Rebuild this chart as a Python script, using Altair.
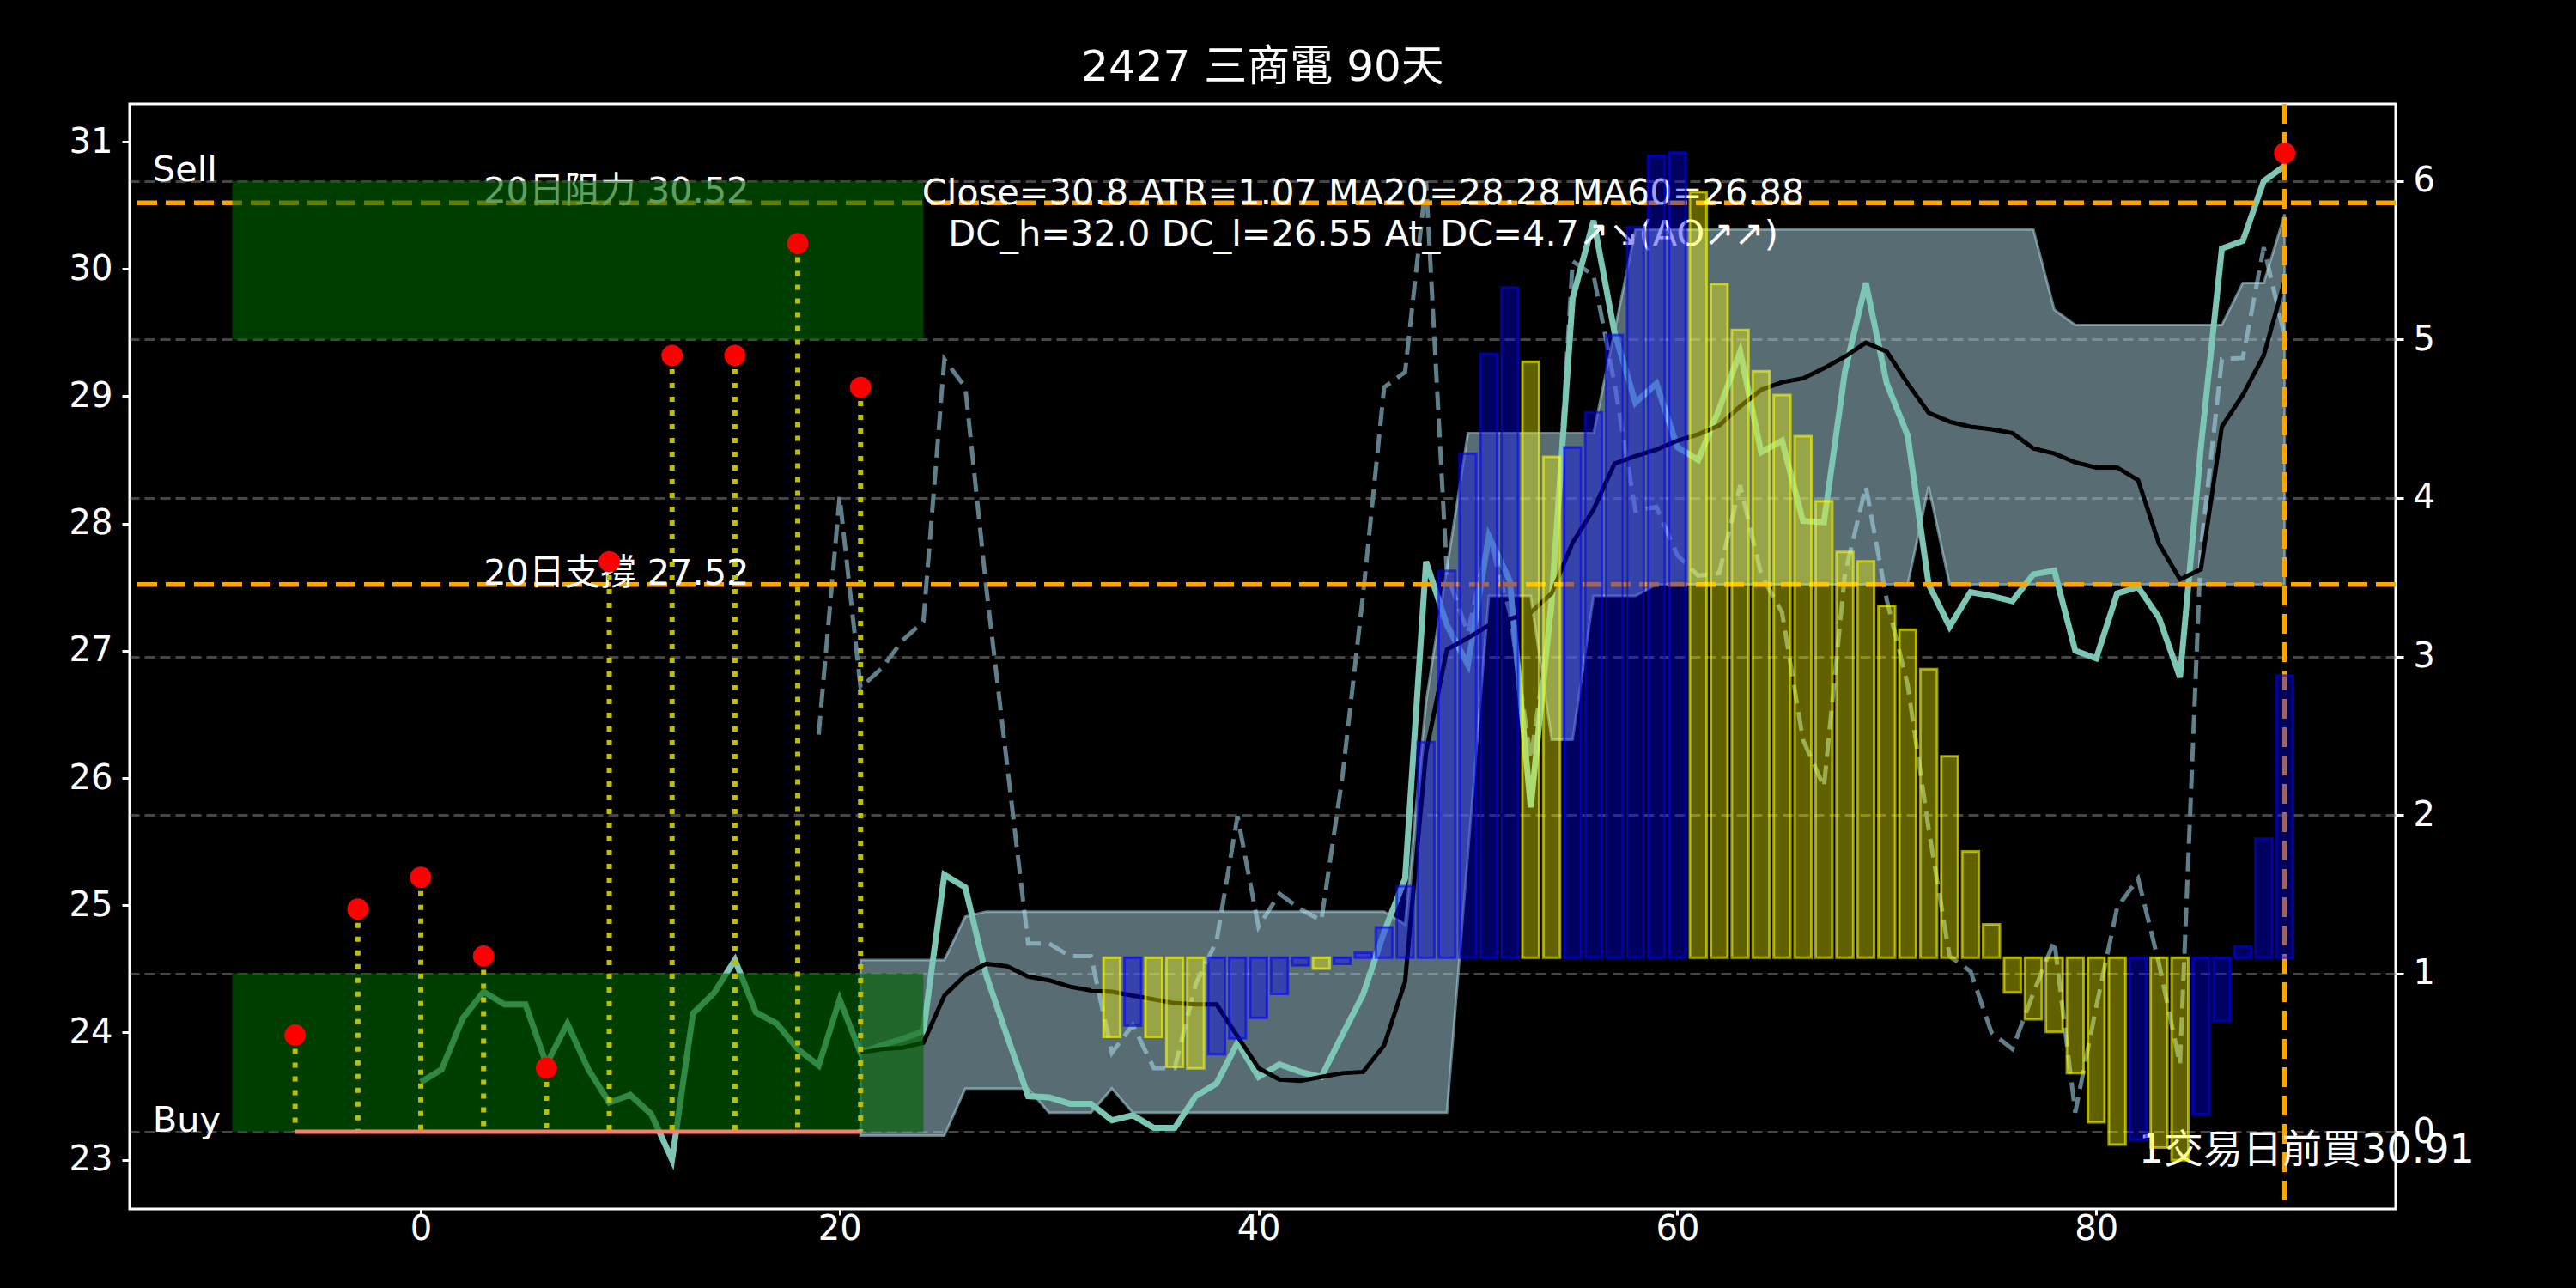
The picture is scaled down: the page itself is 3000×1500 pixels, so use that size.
import altair as alt
import pandas as pd

# ---------------- data ----------------
close_x = list(range(0, 90))
close_y = [23.61, 23.71, 24.11, 24.32, 24.22, 24.22, 23.75, 24.07, 23.71, 23.45,
           23.51, 23.36, 23.00, 24.15, 24.31, 24.57, 24.16, 24.07, 23.87, 23.74,
           24.26, 23.84, 23.90, 23.95, 24.01, 25.24, 25.14, 24.45, 23.97, 23.50,
           23.49, 23.44, 23.44, 23.31, 23.35, 23.25, 23.25, 23.50, 23.60, 23.92,
           23.65, 23.75, 23.69, 23.65, 23.98, 24.30, 24.79, 25.21, 27.70, 27.20,
           26.89, 27.90, 27.55, 25.77, 27.40, 29.77, 30.38, 29.50, 28.95, 29.10,
           28.60, 28.50, 28.90, 29.35, 28.56, 28.65, 28.02, 28.01, 29.19, 29.89,
           29.10, 28.69, 27.52, 27.19, 27.46, 27.43, 27.39, 27.60, 27.63, 27.00,
           26.94, 27.45, 27.50, 27.26, 26.79, 28.60, 30.16, 30.22, 30.69, 30.81]

ma_x = list(range(21, 90))
ma_y = [23.84, 23.87, 23.88, 23.92, 24.29, 24.45, 24.54, 24.52, 24.44, 24.41,
        24.36, 24.33, 24.32, 24.29, 24.26, 24.23, 24.22, 24.22, 23.97, 23.72,
        23.63, 23.62, 23.65, 23.68, 23.69, 23.90, 24.40, 26.20, 27.01, 27.10,
        27.20, 27.25, 27.30, 27.45, 27.85, 28.11, 28.47, 28.53, 28.58, 28.65,
        28.70, 28.77, 28.92, 29.05, 29.11, 29.14, 29.22, 29.31, 29.42, 29.35,
        29.10, 28.87, 28.80, 28.76, 28.74, 28.71, 28.59, 28.55, 28.48, 28.44,
        28.44, 28.34, 27.84, 27.56, 27.64, 28.76, 29.01, 29.32, 29.91]

atr_x = list(range(19, 90))
atr_y = [26.34, 28.21, 26.71, 26.86, 27.08, 27.23, 29.29, 29.07, 27.50, 26.10,
         24.70, 24.70, 24.60, 24.60, 23.84, 24.06, 23.72, 23.72, 24.38, 24.72,
         25.70, 24.83, 25.09, 24.97, 24.88, 26.00, 27.45, 29.07, 29.19, 30.69,
         27.60, 27.14, 27.90, 27.30, 26.15, 27.30, 30.06, 29.95, 29.10, 28.10,
         28.13, 27.75, 27.59, 27.61, 28.30, 27.60, 27.30, 26.30, 25.93, 27.60,
         28.29, 27.40, 26.73, 25.60, 24.60, 24.48, 24.00, 23.87, 24.31, 24.72,
         23.37, 24.20, 24.98, 25.21, 24.54, 23.75, 27.80, 29.29, 29.30, 30.17,
         29.47]

band_x = list(range(21, 90))
band_hi = ([24.57] * 5 + [24.91] + [24.95] * 20 + [24.85, 26.60, 27.65]
           + [28.71] * 7 + [29.51] + [30.31] * 20 + [29.68] + [29.56] * 8
           + [29.89, 29.89, 30.43])
band_lo = ([23.19] * 5 + [23.56] * 4 + [23.37] * 3 + [23.56] + [23.37] * 16
           + [25.40] + [27.43] * 3 + [26.30] * 2 + [27.43] * 3 + [27.52] * 13
           + [28.29] + [27.52] * 17)

ao_x = list(range(33, 90))
ao_val = [0.60, 0.67, 0.60, 0.41, 0.40, 0.49, 0.59, 0.72, 0.87, 1.05,
          1.03, 1.06, 1.13, 1.29, 1.55, 2.46, 3.54, 4.28, 4.91, 5.33,
          4.86, 4.26, 4.32, 4.54, 5.03, 5.71, 6.16, 6.18, 5.93, 5.35,
          5.06, 4.80, 4.65, 4.39, 3.98, 3.66, 3.60, 3.32, 3.17, 2.92,
          2.37, 1.77, 1.31, 0.88, 0.71, 0.63, 0.37, 0.06, -0.08, -0.05,
          -0.10, -0.18, 0.11, 0.70, 1.17, 1.85, 2.88]
ao_dir = (["down", "up", "down", "down", "down", "up", "up", "up", "up", "up",
           "down", "up", "up", "up", "up", "up", "up", "up", "up", "up",
           "down", "down", "up", "up", "up", "up", "up", "up"]
          + ["down"] * 21 + ["up", "down", "down", "up", "up", "up", "up", "up"])
ao_base = 1.10

sig_x = [-6, -3, 0, 3, 6, 9, 12, 15, 18, 21]
sig_y = [23.98, 24.97, 25.22, 24.60, 23.72, 27.70, 29.32, 29.32, 30.20, 29.07]
stop_level = 23.22
buy_x = [89]
buy_y = [30.91]
res_level = 30.52
sup_level = 27.52
zone_x0, zone_x1 = -9, 24
zone_lo = [0, 5]
zone_hi = [1, 6]

title_text = "2427 三商電 90天"
info_text = ("Close=30.8 ATR=1.07 MA20=28.28 MA60=26.88\n"
             "DC_h=32.0 DC_l=26.55 At_DC=4.7↗↘(AO↗↗)")

# ---------------- scales / axes ----------------
FONT = "DejaVu Sans, Noto Sans CJK TC"
XS = alt.Scale(domain=[-13.9, 94.3], nice=False, zero=False)
YL = alt.Scale(domain=[22.613, 31.297], nice=False, zero=False)
YR = alt.Scale(domain=[-0.487, 6.487], nice=False, zero=False)

axis_style = dict(labelColor="white", tickColor="white", tickWidth=3,
                  labelFontSize=40, labelFont=FONT, domain=False, format="d")
XAX = alt.Axis(values=[0, 20, 40, 60, 80], grid=False, tickSize=7,
               labelPadding=-4, **axis_style)
LAX = alt.Axis(values=list(range(23, 32)), orient="left", grid=False,
               tickSize=9, labelPadding=11, **axis_style)
RAX = alt.Axis(values=list(range(0, 7)), orient="right", grid=True,
               gridColor="gray", gridOpacity=0.55, gridWidth=3,
               gridDash=[12, 6], tickSize=9, labelPadding=11, **axis_style)


def xe(field="x"):
    return alt.X(f"{field}:Q", scale=XS, axis=XAX, title="")


def yl(field="y", axis=None):
    return alt.Y(f"{field}:Q", scale=YL, axis=axis, title="")


def yr(field="y", axis=None):
    return alt.Y(f"{field}:Q", scale=YR, axis=axis, title="")


df_close = pd.DataFrame({"x": close_x, "y": close_y})
df_ma = pd.DataFrame({"x": ma_x, "y": ma_y})
df_atr = pd.DataFrame({"x": atr_x, "y": atr_y})
df_band = pd.DataFrame({"x": band_x, "lo": band_lo, "hi": band_hi})
df_ao = pd.DataFrame({"x": ao_x, "v": ao_val, "d": ao_dir})
df_sig = pd.DataFrame({"x": sig_x, "y": sig_y})
df_buy = pd.DataFrame({"x": buy_x, "y": buy_y})
df_levels = pd.DataFrame({"y": [res_level, sup_level]})
df_zone = pd.DataFrame({"x0": [zone_x0] * 2, "x1": [zone_x1] * 2,
                        "r0": zone_lo, "r1": zone_hi})

atr_line = alt.Chart(df_atr).mark_line(
    color="#5f7f8a", strokeWidth=5, strokeDash=[22, 10]
).encode(x=xe(), y=yl(axis=LAX))

band = alt.Chart(df_band).mark_area(
    fill="#add8e6", fillOpacity=0.5, stroke="#add8e6", strokeOpacity=0.55,
    strokeWidth=3
).encode(x=xe(), y=yl("lo"), y2="hi:Q")

close_line = alt.Chart(df_close).mark_line(
    color="#7cc6b6", strokeWidth=7
).encode(x=xe(), y=yl())

ma_line = alt.Chart(df_ma).mark_line(
    color="black", strokeWidth=5
).encode(x=xe(), y=yl())

level_rules = alt.Chart(df_levels).mark_rule(
    color="orange", strokeWidth=5.5, strokeDash=[23, 10]
).encode(y=yl())

buy_rule = alt.Chart(df_buy).mark_rule(
    color="orange", strokeWidth=5.5, strokeDash=[23, 10]
).encode(x=xe())

txt_style = dict(font=FONT, color="white")

info = alt.Chart(pd.DataFrame({"x": [45.0], "y": [30.59], "t": [info_text]})).mark_text(
    align="center", baseline="middle", lineBreak="\n", lineHeight=48,
    fontSize=41.5, **txt_style
).encode(x=xe(), y=yl(), text="t:N")

level_txt = alt.Chart(pd.DataFrame({
    "x": [3, 3], "y": [res_level, sup_level],
    "t": [f"20日阻力 {res_level:.2f}", f"20日支撐 {sup_level:.2f}"]})).mark_text(
    align="left", baseline="alphabetic", fontSize=41.5, **txt_style
).encode(x=xe(), y=yl(), text="t:N")

side_txt = alt.Chart(pd.DataFrame({
    "x": [-12.8, -12.8], "y": [6, 0], "t": ["Sell", "Buy"]})).mark_text(
    align="left", baseline="alphabetic", fontSize=41.5, **txt_style
).encode(x=xe(), y=yr(), text="t:N")

buy_txt = alt.Chart(pd.DataFrame({
    "x": [90.05], "y": [0], "t": [f"1交易日前買{buy_y[0]:.2f}"]})).mark_text(
    align="center", baseline="top", fontSize=46, **txt_style
).encode(x=xe(), y=yr(), text="t:N")

zones = alt.Chart(df_zone).mark_rect(
    color="#006400", opacity=0.62
).encode(x=xe("x0"), x2="x1:Q", y=yr("r0", axis=RAX), y2="r1:Q")

stems = alt.Chart(df_sig).transform_calculate(base=str(stop_level)).mark_rule(
    color="#bfbf00", strokeWidth=6, strokeDash=[6, 10]
).encode(x=xe(), y=yl(), y2="base:Q")

stop_line = alt.Chart(pd.DataFrame({"x0": [sig_x[0]], "x1": [sig_x[-1]],
                                    "y": [stop_level]})).mark_rule(
    color="salmon", strokeWidth=5
).encode(x=xe("x0"), x2="x1:Q", y=yl())

dots = alt.Chart(pd.concat([df_sig, df_buy])).mark_circle(
    color="red", size=615, opacity=1
).encode(x=xe(), y=yl())

ao_bars = alt.Chart(df_ao).transform_calculate(
    l="datum.x - 0.4", r="datum.x + 0.4", base=str(ao_base)
).mark_rect(fillOpacity=0.38, strokeOpacity=0.6, strokeWidth=3).encode(
    x=xe("l"), x2="r:Q", y=yr("v"), y2="base:Q",
    color=alt.Color("d:N", scale=alt.Scale(domain=["down", "up"],
                                             range=["yellow", "blue"]), legend=None),
    stroke=alt.Stroke("d:N", scale=alt.Scale(domain=["down", "up"],
                                               range=["yellow", "blue"]), legend=None),
)

chart = alt.layer(
    atr_line, band, close_line, ma_line, level_rules, buy_rule,
    info, level_txt, side_txt, buy_txt, zones, stems, stop_line, dots, ao_bars
).resolve_scale(
    y="independent"
).properties(
    width=2639, height=1287,
    autosize=alt.AutoSizeParams(type="none"),
    padding={"left": 151, "top": 121, "right": 210, "bottom": 92},
    background="black",
    title=alt.TitleParams(title_text, color="white", fontSize=50, font=FONT,
                          fontWeight="normal", anchor="middle", offset=14),
).configure_view(stroke="white", strokeWidth=3)

chart.save("out.html", embed_options={"renderer": "svg", "actions": False})
